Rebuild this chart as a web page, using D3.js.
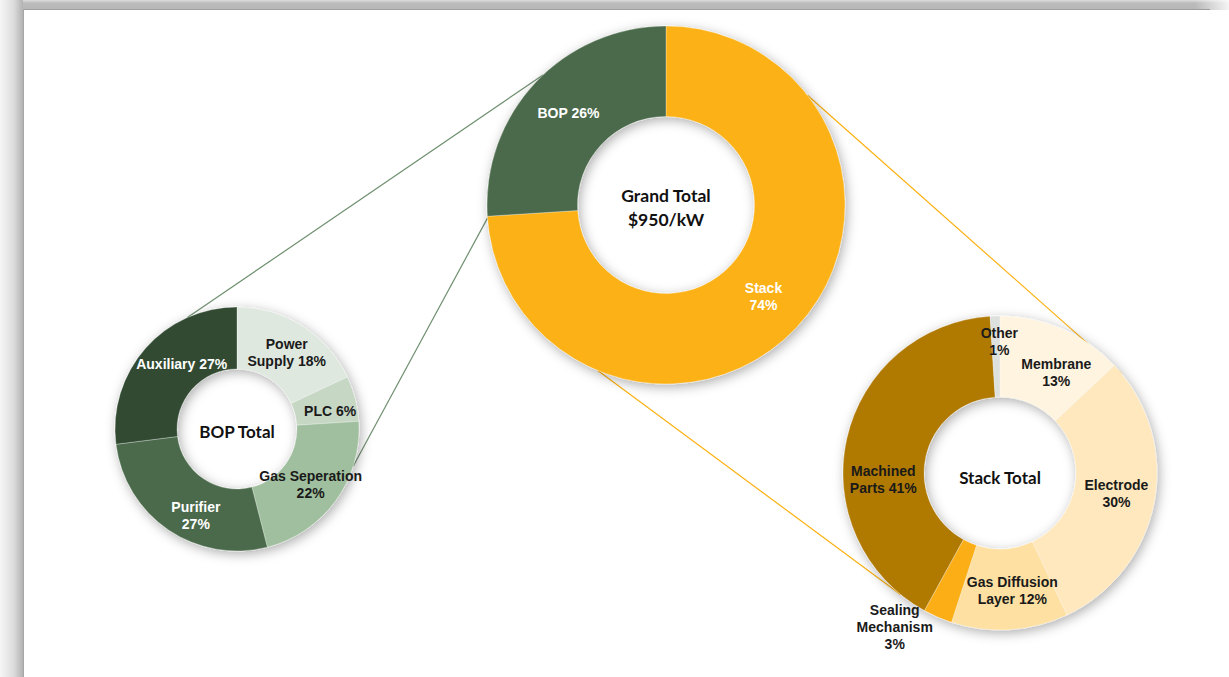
<!DOCTYPE html>
<html>
<head>
<meta charset="utf-8">
<script src="https://cdn.jsdelivr.net/npm/d3@7/dist/d3.min.js"></script>
<style>
  html, body { margin: 0; padding: 0; background: #fff; }
  svg { display: block; }
</style>
</head>
<body>
<svg id="chart" width="1229" height="677"></svg>
<script>
// ---- Data -------------------------------------------------------------
const grandCategories = ["Stack", "BOP"];
const grandValues = [74, 26];
const grandColors = ["#fcb112", "#4b6b4b"];

const bopCategories = ["Power Supply", "PLC", "Gas Seperation", "Purifier", "Auxiliary"];
const bopValues = [18, 6, 22, 27, 27];
const bopColors = ["#dfe8df", "#c6d7c4", "#a0bf9e", "#4b6b4b", "#314a32"];

const stackCategories = ["Membrane", "Electrode", "Gas Diffusion Layer", "Sealing Mechanism", "Machined Parts", "Other"];
const stackValues = [13, 30, 12, 3, 41, 1];
const stackColors = ["#fff4df", "#ffe8bd", "#fee0a2", "#fcae13", "#b07905", "#dde1dd"];

// Label text lines per slice ({v} is replaced by the value)
const grandLabels = [["Stack", "{v}%"], ["BOP {v}%"]];
const bopLabels = [["Power", "Supply {v}%"], ["PLC {v}%"], ["Gas Seperation", "{v}%"], ["Purifier", "{v}%"], ["Auxiliary {v}%"]];
const stackLabels = [["Membrane", "{v}%"], ["Electrode", "{v}%"], ["Gas Diffusion", "Layer {v}%"], ["Sealing", "Mechanism", "{v}%"], ["Machined", "Parts {v}%"], ["Other", "{v}%"]];

const grandTitle = ["Grand Total", "$950/kW"];
const bopTitle = ["BOP Total"];
const stackTitle = ["Stack Total"];

// ---- Layout -----------------------------------------------------------
const svg = d3.select("#chart");
const W = 1229, H = 677;

const donuts = {
  grand: { cx: 666, cy: 205, r: 179, ir: 88.5, cats: grandCategories, vals: grandValues, cols: grandColors, labels: grandLabels,
           labelColors: ["#ffffff", "#ffffff"], nudges: [[0, 0], [0, 0]], title: grandTitle, titleDy: 3, titleSize: 17.5 },
  bop:   { cx: 237, cy: 429, r: 122, ir: 60, cats: bopCategories, vals: bopValues, cols: bopColors, labels: bopLabels,
           labelColors: ["#1a1a1a", "#1a1a1a", "#1a1a1a", "#ffffff", "#ffffff"],
           nudges: [[1, 0], [5, 5], [0, 2], [10, 11], [13, -5]], title: bopTitle, titleDy: 3, titleSize: 17 },
  stack: { cx: 1000, cy: 473, r: 157, ir: 76, cats: stackCategories, vals: stackValues, cols: stackColors, labels: stackLabels,
           labelColors: ["#1a1a1a", "#1a1a1a", "#1a1a1a", "#1a1a1a", "#1a1a1a", "#1a1a1a"],
           nudges: [[10, 7], [2, -1], [5, 1], [-59, 47], [-3, 32], [3, -15]], title: stackTitle, titleDy: 5, titleSize: 17 }
};

// Connector lines between the outer rims (angles in degrees, clockwise from 12 o'clock)
const connectors = [
  { from: "grand", a1: 316.6, to: "bop",   a2: 336,   color: "#6f8f6f" },
  { from: "grand", a1: 265.8, to: "bop",   a2: 107.8, color: "#6f8f6f" },
  { from: "grand", a1: 52.2,  to: "stack", a2: 50.6,  color: "#fcb112" },
  { from: "grand", a1: 202.4, to: "stack", a2: 219.3, color: "#fcb112" }
];

// ---- Defs: frame gradients and soft shadow -----------------------------
const defs = svg.append("defs");
const gTop = defs.append("linearGradient").attr("id", "gTop").attr("x1", 0).attr("y1", 0).attr("x2", 0).attr("y2", 1);
gTop.append("stop").attr("offset", "0%").attr("stop-color", "#dedede");
gTop.append("stop").attr("offset", "30%").attr("stop-color", "#bcbcbc");
gTop.append("stop").attr("offset", "100%").attr("stop-color", "#b6b6b6");
const gLeft = defs.append("linearGradient").attr("id", "gLeft").attr("x1", 0).attr("y1", 0).attr("x2", 1).attr("y2", 0);
gLeft.append("stop").attr("offset", "0%").attr("stop-color", "#f6f6f6");
gLeft.append("stop").attr("offset", "60%").attr("stop-color", "#dcdcdc");
gLeft.append("stop").attr("offset", "100%").attr("stop-color", "#b2b2b2");
const gRight = defs.append("linearGradient").attr("id", "gRight").attr("x1", 0).attr("y1", 0).attr("x2", 1).attr("y2", 0);
gRight.append("stop").attr("offset", "0%").attr("stop-color", "#fff").attr("stop-opacity", 0);
gRight.append("stop").attr("offset", "100%").attr("stop-color", "#fff").attr("stop-opacity", 0.85);

const shadow = defs.append("filter").attr("id", "soft").attr("x", "-20%").attr("y", "-20%").attr("width", "140%").attr("height", "140%");
shadow.append("feDropShadow").attr("dx", 2).attr("dy", 3).attr("stdDeviation", 6)
  .attr("flood-color", "#000").attr("flood-opacity", 0.32);

// ---- Frame -------------------------------------------------------------
svg.append("rect").attr("x", 0).attr("y", 0).attr("width", W).attr("height", H).attr("fill", "#fff");
svg.append("rect").attr("x", 0).attr("y", 0).attr("width", W).attr("height", 10).attr("fill", "url(#gTop)");
svg.append("rect").attr("x", 1195).attr("y", 0).attr("width", 34).attr("height", 10).attr("fill", "url(#gRight)");
svg.append("line").attr("x1", 22).attr("x2", 1210).attr("y1", 9.5).attr("y2", 9.5).attr("stroke", "#9e9e9e").attr("stroke-width", 1);
svg.append("rect").attr("x", 0).attr("y", 0).attr("width", 23).attr("height", H).attr("fill", "url(#gLeft)");
svg.append("line").attr("x1", 23.5).attr("x2", 23.5).attr("y1", 9).attr("y2", H).attr("stroke", "#a6a6a6").attr("stroke-width", 1);

// ---- Helpers -----------------------------------------------------------
const rad = d => d * Math.PI / 180;
function rimPoint(key, deg) {
  const d = donuts[key];
  return [d.cx + d.r * Math.sin(rad(deg)), d.cy - d.r * Math.cos(rad(deg))];
}

// ---- Connector lines ---------------------------------------------------
svg.append("g").selectAll("line").data(connectors).join("line")
  .attr("x1", c => rimPoint(c.from, c.a1)[0]).attr("y1", c => rimPoint(c.from, c.a1)[1])
  .attr("x2", c => rimPoint(c.to, c.a2)[0]).attr("y2", c => rimPoint(c.to, c.a2)[1])
  .attr("stroke", c => c.color).attr("stroke-width", 1.2);

// ---- Donuts ------------------------------------------------------------
const pie = d3.pie().sort(null).startAngle(0).endAngle(2 * Math.PI);
const labelFont = "'Liberation Sans', Arial, sans-serif";
const titleFont = "Lato, 'Open Sans', sans-serif";

Object.values(donuts).forEach(d => {
  const color = d3.scaleOrdinal().domain(d.cats).range(d.cols);
  const arc = d3.arc().innerRadius(d.ir).outerRadius(d.r);
  const arcs = pie.value((v, i) => v)(d.vals).map((a, i) => Object.assign(a, { cat: d.cats[i], idx: i }));

  const g = svg.append("g").attr("transform", `translate(${d.cx},${d.cy})`);
  g.append("g").attr("filter", "url(#soft)")
    .selectAll("path").data(arcs).join("path")
    .attr("d", arc)
    .attr("fill", a => color(a.cat))
    .attr("stroke", "#ffffff").attr("stroke-opacity", 0.5).attr("stroke-width", 0.6);

  // slice labels
  const lh = 17;
  g.append("g").selectAll("text").data(arcs).join("text")
    .attr("transform", a => {
      const c = arc.centroid(a);
      const n = d.nudges[a.idx];
      return `translate(${c[0] + n[0]},${c[1] + n[1]})`;
    })
    .attr("text-anchor", "middle")
    .attr("font-family", labelFont).attr("font-weight", "bold").attr("font-size", 14)
    .attr("fill", a => d.labelColors[a.idx])
    .each(function(a) {
      const lines = d.labels[a.idx].map(s => s.replace("{v}", a.data));
      const t = d3.select(this);
      lines.forEach((s, k) => {
        t.append("tspan").attr("x", 0)
          .attr("y", (k - (lines.length - 1) / 2) * lh)
          .attr("dy", "0.35em").text(s);
      });
    });

  // centre title
  const tt = g.append("text").attr("text-anchor", "middle")
    .attr("font-family", titleFont).attr("font-weight", "bold").attr("font-size", d.titleSize)
    .attr("fill", "#111");
  d.title.forEach((s, k) => {
    tt.append("tspan").attr("x", 0)
      .attr("y", d.titleDy + (k - (d.title.length - 1) / 2) * 24)
      .attr("dy", "0.35em").text(s);
  });
});
</script>
</body>
</html>
